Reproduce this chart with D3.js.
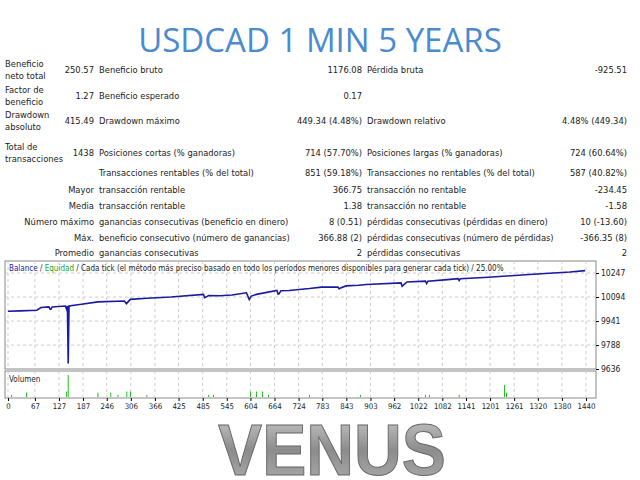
<!DOCTYPE html>
<html><head><meta charset="utf-8">
<script src="https://cdn.jsdelivr.net/npm/d3@7"></script>
<style>body{margin:0;background:#fff}svg{display:block}</style>
</head><body><svg id="c" width="640" height="480"></svg>
<script>
// table rows: [label1, value1, label2, value2, label3, value3]
const statRows = [
  ['Beneficio|neto total', '250.57', 'Beneficio bruto', '1176.08', 'Pérdida bruta', '-925.51'],
  ['Factor de|beneficio', '1.27', 'Beneficio esperado', '0.17', '', ''],
  ['Drawdown|absoluto', '415.49', 'Drawdown máximo', '449.34 (4.48%)', 'Drawdown relativo', '4.48% (449.34)'],
  ['Total de|transacciones', '1438', 'Posiciones cortas (% ganadoras)', '714 (57.70%)', 'Posiciones largas (% ganadoras)', '724 (60.64%)'],
  ['', '', 'Transacciones rentables (% del total)', '851 (59.18%)', 'Transacciones no rentables (% del total)', '587 (40.82%)'],
  ['', 'Mayor', 'transacción rentable', '366.75', 'transacción no rentable', '-234.45'],
  ['', 'Media', 'transacción rentable', '1.38', 'transacción no rentable', '-1.58'],
  ['', 'Número máximo', 'ganancias consecutivas (beneficio en dinero)', '8 (0.51)', 'pérdidas consecutivas (pérdidas en dinero)', '10 (-13.60)'],
  ['', 'Máx.', 'beneficio consecutivo (número de ganancias)', '366.88 (2)', 'pérdidas consecutivas (número de pérdidas)', '-366.35 (8)'],
  ['', 'Promedio', 'ganancias consecutivas', '2', 'pérdidas consecutivas', '2']
];
const rowY = [70, 96, 121, 153, 173, 190, 206, 222, 238, 253];

const balTrades = [0,30,72,82,102,105,107,110,143,146,148,150,152,183,224,290,295,305,346,406,487,490,492,500,528,558,594,601,606,619,670,673,675,680,700,751,781,822,825,827,842,873,893,979,982,984,994,1040,1043,1046,1095,1121,1124,1127,1197,1298,1400,1438];
const balValues = [10004,10006,10010,10027,10031,10016,10016,10031,10037,10016,10037,9671,10037,10048,10063,10069,10052,10079,10086,10094,10111,10090,10092,10104,10102,10107,10121,10079,10100,10111,10136,10112,10114,10134,10136,10148,10157,10157,10146,10150,10165,10169,10174,10184,10163,10168,10190,10195,10180,10195,10205,10211,10199,10210,10220,10237,10253,10262];

const volTrades = [9,46,146,150,224,256,274,296,305,346,500,512,604,619,634,649,751,878,1040,1050,1124,1237,1242];
const volValues = [1,2,2.5,10,2,2,1,2.5,2.5,1,1,1,2.5,2.5,2.5,1,1,1,1,1,1,5.5,2];

const yTicks = [9636, 9788, 9941, 10094, 10247];
const xTicks = [0,67,127,187,246,306,366,425,485,545,604,664,724,783,843,903,962,1022,1082,1141,1201,1261,1320,1380,1440];

const svg = d3.select('#c');
const font = 'Tahoma, "DejaVu Sans Condensed", "Liberation Sans", sans-serif';

// title
svg.append('text').attr('x', 320).attr('y', 52).attr('text-anchor', 'middle')
  .attr('font-family', '"Open Sans", sans-serif').attr('font-size', 33).attr('fill', '#4a8ad0')
  .text('USDCAD 1 MIN 5 YEARS');

// stats table
const tbl = svg.append('g').attr('font-family', font).attr('font-size', 9.3).attr('fill', '#222');
statRows.forEach((r, i) => {
  const y = rowY[i];
  if (r[0]) {
    const parts = r[0].split('|');
    parts.forEach((p, j) => tbl.append('text').attr('x', 5).attr('y', y - 3 + j * 12).text(p));
  }
  tbl.append('text').attr('x', 94).attr('y', y + 3).attr('text-anchor', 'end').text(r[1]);
  tbl.append('text').attr('x', 99).attr('y', y + 3).text(r[2]);
  tbl.append('text').attr('x', 362).attr('y', y + 3).attr('text-anchor', 'end').text(r[3]);
  tbl.append('text').attr('x', 367).attr('y', y + 3).text(r[4]);
  tbl.append('text').attr('x', 627).attr('y', y + 3).attr('text-anchor', 'end').text(r[5]);
});

// chart
const x = d3.scaleLinear().domain([0, 1440]).range([8, 586]);
const y = d3.scaleLinear().domain([9636, 10247]).range([369, 273]);
const pLeft = 5, pRight = 596, pTop = 261, pBottom = 369;

svg.append('rect').attr('x', pLeft).attr('y', pTop).attr('width', pRight - pLeft).attr('height', pBottom - pTop)
  .attr('fill', '#fff').attr('stroke', '#888');
svg.append('rect').attr('x', pLeft).attr('y', 371).attr('width', pRight - pLeft).attr('height', 27)
  .attr('fill', '#fff').attr('stroke', '#888');

const grid = svg.append('g').attr('stroke', '#ccc').attr('stroke-dasharray', '3,3');
xTicks.forEach(t => {
  grid.append('line').attr('x1', x(t)).attr('x2', x(t)).attr('y1', pTop).attr('y2', pBottom);
  grid.append('line').attr('x1', x(t)).attr('x2', x(t)).attr('y1', 371).attr('y2', 398);
});
yTicks.slice(1).forEach(t => grid.append('line').attr('x1', pLeft).attr('x2', pRight).attr('y1', y(t)).attr('y2', y(t)));

svg.append('path').datum(balTrades.map((t, i) => [t, balValues[i]]))
  .attr('fill', 'none').attr('stroke', '#1a1aa0').attr('stroke-width', 1.6)
  .attr('d', d3.line().x(d => x(d[0])).y(d => y(d[1])));

// right axis
const ya = svg.append('g').attr('transform', `translate(${pRight},0)`)
  .call(d3.axisRight(y).tickValues(yTicks).tickFormat(d3.format('d')).tickSize(3).tickPadding(2));
ya.select('.domain').remove();
ya.selectAll('text').attr('font-family', font).attr('font-size', 8.5).attr('fill', '#222');

// legend
const lg = svg.append('text').attr('x', 9).attr('y', 271).attr('font-family', font).attr('font-size', 8);
lg.append('tspan').attr('fill', '#1a1aa0').text('Balance');
lg.append('tspan').attr('fill', '#222').text(' / ');
lg.append('tspan').attr('fill', '#22aa22').text('Equidad');
lg.append('tspan').attr('fill', '#222').text(' / Cada tick (el método más preciso basado en todo los períodos menores disponibles para generar cada tick)  / 25.00%');

// volume
const v = d3.scaleLinear().domain([0, 10]).range([397, 375]);
svg.append('text').attr('x', 9).attr('y', 382).attr('font-family', font).attr('font-size', 8).attr('fill', '#222').text('Volumen');
svg.append('g').selectAll('line').data(volTrades.map((t, i) => [t, volValues[i]])).join('line')
  .attr('x1', d => x(d[0])).attr('x2', d => x(d[0])).attr('y1', 397).attr('y2', d => v(d[1]))
  .attr('stroke', '#22bb22').attr('stroke-width', 1);

// bottom axis
const xa = svg.append('g').attr('transform', 'translate(0,398)')
  .call(d3.axisBottom(x).tickValues(xTicks).tickFormat(d3.format('d')).tickSize(3).tickPadding(2));
xa.select('.domain').remove();
xa.selectAll('text').attr('font-family', font).attr('font-size', 7.8).attr('fill', '#222');

// VENUS
const defs = svg.append('defs');
const gr = defs.append('linearGradient').attr('id', 'metal').attr('x1', 0).attr('y1', 0).attr('x2', 0).attr('y2', 1);
[['0%', '#d0d0d0'], ['50%', '#8c8c8c'], ['100%', '#b0b0b0']]
  .forEach(s => gr.append('stop').attr('offset', s[0]).attr('stop-color', s[1]));
svg.append('text').attr('x', 218).attr('y', 475)
  .attr('font-family', '"Liberation Sans", Arial, sans-serif').attr('font-size', 72).attr('font-weight', 'bold')
  .attr('textLength', 228).attr('lengthAdjust', 'spacingAndGlyphs')
  .attr('fill', 'url(#metal)').attr('stroke', '#666').attr('stroke-width', 1).text('VENUS');
</script></body></html>
